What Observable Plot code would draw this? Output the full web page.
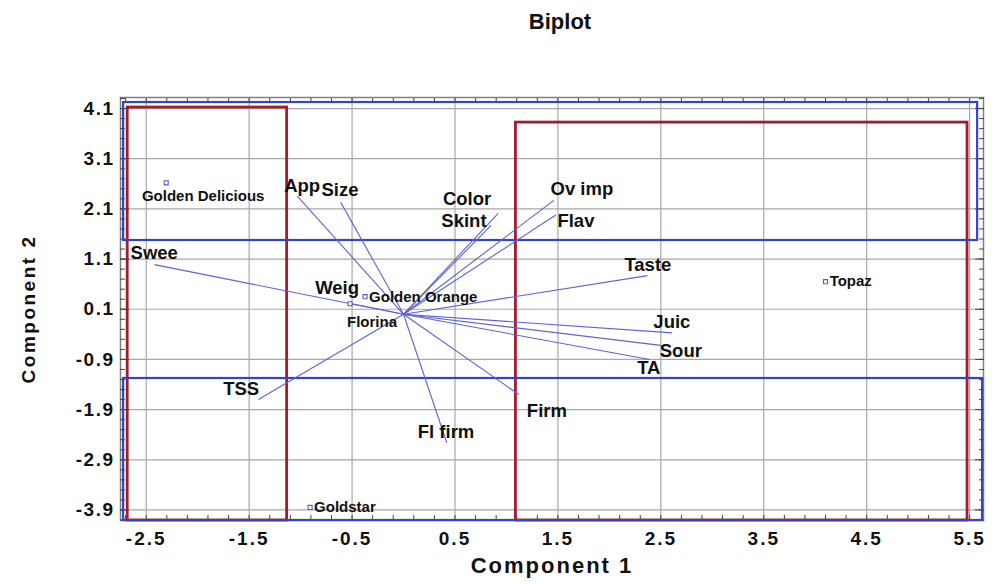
<!DOCTYPE html>
<html>
<head>
<meta charset="utf-8">
<script src="https://cdn.jsdelivr.net/npm/d3@7"></script>
<script src="https://cdn.jsdelivr.net/npm/@observablehq/plot@0.6"></script>
<style>
  body { margin: 0; background: #fff; }
  #wrap { position: relative; width: 995px; height: 584px; font-family: "Liberation Sans", Arial, sans-serif; }
  #title { height: 44px; line-height: 44px; padding-left: 125px; text-align: center; font-weight: bold; font-size: 22px; color: #111; }
  svg text { font-weight: bold; }
  g[aria-label="x-axis tick label"] text { letter-spacing: 2px; }
  g[aria-label="y-axis tick label"] text { letter-spacing: 1.5px; }
  g.ylab text { letter-spacing: 2.5px; }
  g.xlab text { letter-spacing: 2px; }
</style>
</head>
<body>
<div id="wrap">
  <div id="title">Biplot</div>
  <div id="chart"></div>
</div>
<script>
// Variable loadings (vectors)
const varNames = ["App", "Size", "Color", "Skint", "Ov imp", "Flav", "Taste", "Juic", "Sour", "TA", "Firm", "Fl firm", "TSS", "Swee", "Weig"];
const varX = [-1.03, -0.61, 0.92, 0.85, 1.46, 1.48, 2.37, 2.61, 2.50, 2.39, 1.12, 0.42, -1.41, -2.42, -0.50];
const varY = [2.35, 2.23, 2.01, 1.77, 2.27, 1.98, 0.77, -0.37, -0.62, -0.90, -1.60, -2.56, -1.70, 0.99, 0.21];
const varLabelX = [-0.985, -0.617, 0.617, 0.587, 1.733, 1.675, 2.374, 2.607, 2.694, 2.383, 1.393, 0.413, -1.578, -2.422, -0.646];
const varLabelY = [2.55, 2.47, 2.29, 1.85, 2.49, 1.85, 0.99, -0.15, -0.74, -1.08, -1.92, -2.34, -1.50, 1.21, 0.53];

// Observations (cultivars)
const obsNames = ["Golden Delicious", "Golden Orange", "Florina", "Topaz", "Goldstar"];
const obsX = [-2.306, -0.374, -0.52, 4.10, -0.908];
const obsY = [2.62, 0.35, 0.21, 0.65, -3.85];
const obsLabelX = [-1.947, -0.335, -0.306, 4.14, -0.869];
const obsLabelY = [2.35, 0.35, -0.15, 0.65, -3.85];
const obsLabelAnchor = ["middle", "start", "middle", "start", "start"];

// Region boxes
const redX1 = [-2.68, 1.092];
const redX2 = [-1.131, 5.48];
const redY1 = [-4.11, -4.11];
const redY2 = [4.12, 3.82];
const blueX1 = [-2.72, -2.72];
const blueX2 = [5.578, 5.626];
const blueY1 = [1.47, -4.11];
const blueY2 = [4.22, -1.28];

// Tick labels
const xTicks = [-2.5, -1.5, -0.5, 0.5, 1.5, 2.5, 3.5, 4.5, 5.5];
const yTicks = [-3.9, -2.9, -1.9, -0.9, 0.1, 1.1, 2.1, 3.1, 4.1];

const vars = varNames.map((n, i) => ({name: n, x: varX[i], y: varY[i], lx: varLabelX[i], ly: varLabelY[i]}));
const obs = obsNames.map((n, i) => ({name: n, x: obsX[i], y: obsY[i], lx: obsLabelX[i], ly: obsLabelY[i], a: obsLabelAnchor[i]}));
const reds = redX1.map((d, i) => ({x1: d, x2: redX2[i], y1: redY1[i], y2: redY2[i]}));
const blues = blueX1.map((d, i) => ({x1: d, x2: blueX2[i], y1: blueY1[i], y2: blueY2[i]}));

const minorXs = d3.range(0, 200).map(k => +(-2.7 + 0.2 * k).toFixed(2)).filter(v => v <= 5.63);
const minorYs = d3.range(0, 200).map(k => +(4.3 - 0.2 * k).toFixed(2)).filter(v => v >= -4.1);

const fmt = d => d3.format(".1f")(d).replace("−", "-");
const tickCol = "#444";

const plot = Plot.plot({
  width: 995,
  height: 540,
  marginLeft: 120,
  marginRight: 12,
  marginTop: 53,
  marginBottom: 64,
  style: {fontFamily: "'Liberation Sans', Arial, sans-serif", color: "#111", background: "white"},
  x: {domain: [-2.75, 5.635]},
  y: {domain: [-4.11, 4.32]},
  marks: [
    Plot.gridX(xTicks, {stroke: "#a8a8a8", strokeOpacity: 1, strokeWidth: 1.2}),
    Plot.gridY(yTicks, {stroke: "#a8a8a8", strokeOpacity: 1, strokeWidth: 1.2}),
    Plot.frame({stroke: "#808080", strokeWidth: 1.5}),
    // inward minor ticks on all four sides
    Plot.axisX({anchor: "top", ticks: minorXs, tickSize: -5, tickFormat: () => "", label: null, stroke: tickCol}),
    Plot.axisX({anchor: "bottom", ticks: minorXs, tickSize: -5, tickFormat: () => "", label: null, stroke: tickCol}),
    Plot.axisY({anchor: "left", ticks: minorYs, tickSize: -5, tickFormat: () => "", label: null, stroke: tickCol}),
    Plot.axisY({anchor: "right", ticks: minorYs, tickSize: -5, tickFormat: () => "", label: null, stroke: tickCol}),
    Plot.axisY({anchor: "left", ticks: yTicks, tickSize: -9, tickFormat: () => "", label: null, stroke: tickCol}),
    Plot.axisY({anchor: "right", ticks: yTicks, tickSize: -9, tickFormat: () => "", label: null, stroke: tickCol}),
    // labelled axes
    Plot.axisX({anchor: "bottom", ticks: xTicks, tickSize: 0, tickPadding: 11, tickFormat: fmt, fontSize: 19, label: null}),
    Plot.axisY({anchor: "left", ticks: yTicks, tickSize: 0, tickPadding: 6, tickFormat: fmt, fontSize: 19, label: null}),
    // region boxes
    Plot.rect(reds, {x1: "x1", x2: "x2", y1: "y1", y2: "y2", fill: "none", stroke: "#a11c2c", strokeWidth: 2.8}),
    Plot.rect(blues, {x1: "x1", x2: "x2", y1: "y1", y2: "y2", fill: "none", stroke: "#3343cc", strokeWidth: 2.2}),
    // loading vectors
    Plot.link(vars, {x1: () => 0, y1: () => 0, x2: "x", y2: "y", stroke: "#5f62d6", strokeWidth: 1.1}),
    Plot.text(vars, {x: "lx", y: "ly", text: "name", fontSize: 18.5, fontWeight: "bold", fill: "#111"}),
    // observations
    Plot.dot(obs, {x: "x", y: "y", symbol: "square", r: 2.3, stroke: "#5a5ad0", fill: "white", strokeWidth: 1.1}),
    Plot.text(obs.filter(d => d.a === "middle"), {x: "lx", y: "ly", text: "name", textAnchor: "middle", fontSize: 15, fontWeight: "bold", fill: "#111"}),
    Plot.text(obs.filter(d => d.a === "start"), {x: "lx", y: "ly", text: "name", textAnchor: "start", fontSize: 15, fontWeight: "bold", fill: "#111"}),
    // axis titles
    Plot.text(["Component 1"], {frameAnchor: "bottom", dy: 52, textAnchor: "middle", fontSize: 22, fontWeight: "bold", fill: "#111", className: "xlab"}),
    Plot.text(["Component 2"], {frameAnchor: "left", dx: -92, rotate: -90, textAnchor: "middle", fontSize: 19, fontWeight: "bold", fill: "#111", className: "ylab"})
  ]
});
document.getElementById("chart").appendChild(plot);
</script>
</body>
</html>
